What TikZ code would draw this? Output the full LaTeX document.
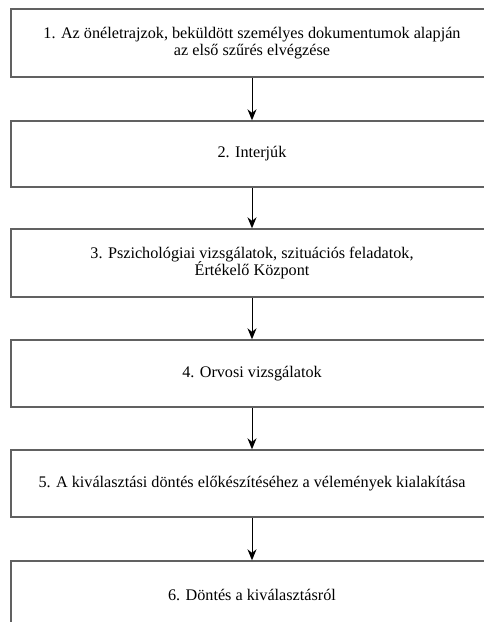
\documentclass[tikz,border=0pt]{standalone}
\usepackage{fontspec}
\setmainfont{Liberation Serif}
\usetikzlibrary{arrows.meta}
\begin{document}
\begin{tikzpicture}[x=1pt,y=1pt,
  stepbox/.style={draw=black!62, line width=1.4pt, fill=white, minimum width=482pt,
    align=center, inner sep=0pt, font=\rmfamily\fontsize{16.2}{17.5}\selectfont},
  flow/.style={draw=black, line width=1pt, -{Stealth[length=11pt,width=9pt]}}]
\useasboundingbox (0,0) rectangle (483,-622);
\fill[white] (0,0) rectangle (483,-622);
\node[stepbox, minimum height=68pt] (s1) at (252,-43)
  {1. Az önéletrajzok, beküldött személyes dokumentumok alapján\\az első szűrés elvégzése};
\node[stepbox, minimum height=66pt] (s2) at (252,-154) {2. Interjúk};
\node[stepbox, minimum height=68pt] (s3) at (252,-263)
  {3. Pszichológiai vizsgálatok, szituációs feladatok,\\Értékelő Központ};
\node[stepbox, minimum height=67pt] (s4) at (252,-373.5) {4. Orvosi vizsgálatok};
\node[stepbox, minimum height=67pt] (s5) at (252,-483.5)
  {5. A kiválasztási döntés előkészítéséhez a vélemények kialakítása};
\node[stepbox, minimum height=68pt] (s6) at (252,-595) {6. Döntés a kiválasztásról};
\draw[flow] (s1.south) -- (s2.north);
\draw[flow] (s2.south) -- (s3.north);
\draw[flow] (s3.south) -- (s4.north);
\draw[flow] (s4.south) -- (s5.north);
\draw[flow] (s5.south) -- (s6.north);
\end{tikzpicture}
\end{document}
